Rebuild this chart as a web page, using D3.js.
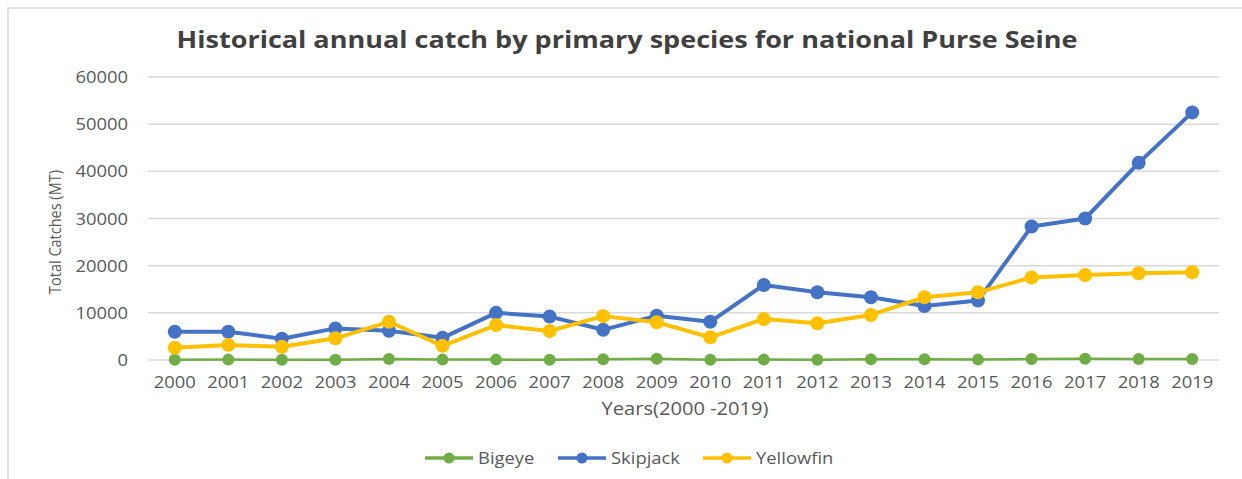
<!DOCTYPE html>
<html>
<head>
<meta charset="utf-8">
<script src="https://cdn.jsdelivr.net/npm/d3@7"></script>
<style>
body { margin: 0; background: #fff; }
text { font-family: "Open Sans", sans-serif; fill: #595959; }
</style>
</head>
<body>
<div id="chart"></div>
<script>
var width = 1242, height = 479;

// data
var years = [2000, 2001, 2002, 2003, 2004, 2005, 2006, 2007, 2008, 2009,
             2010, 2011, 2012, 2013, 2014, 2015, 2016, 2017, 2018, 2019];
var bigeye = [50, 80, 60, 60, 200, 80, 80, 60, 150, 250,
              60, 80, 60, 150, 150, 80, 200, 250, 200, 220];
var skipjack = [6000, 6000, 4500, 6700, 6200, 4700, 10000, 9200, 6400, 9400,
                8100, 15900, 14350, 13300, 11450, 12600, 28300, 30000, 41800, 52500];
var yellowfin = [2600, 3200, 2800, 4600, 8100, 3000, 7400, 6150, 9300, 8000,
                 4800, 8700, 7800, 9550, 13300, 14350, 17500, 18000, 18400, 18600];
var yTicks = [0, 10000, 20000, 30000, 40000, 50000, 60000];
var seriesNames = ["Bigeye", "Skipjack", "Yellowfin"];
var seriesColors = ["#70AD47", "#4472C4", "#FFC000"];

var series = [
    {name: seriesNames[0], values: bigeye, color: seriesColors[0], w: 2.5, r: 6},
    {name: seriesNames[1], values: skipjack, color: seriesColors[1], w: 4, r: 7},
    {name: seriesNames[2], values: yellowfin, color: seriesColors[2], w: 4, r: 7}
];

var stretch = 1.15; // reference text looks widened

var svg = d3.select("#chart").append("svg")
    .attr("width", width)
    .attr("height", height);

//chart border
svg.append("rect")
    .attr("x", 8).attr("y", 8)
    .attr("width", 1260).attr("height", 500)
    .attr("fill", "none")
    .attr("stroke", "#d9d9d9")
    .attr("stroke-width", 1.5);

var x = d3.scaleBand()
    .domain(years)
    .range([148, 1219]);

var y = d3.scaleLinear()
    .domain([0, 60000])
    .range([360, 77]);

function stretchedText(g, tx, ty, str) {
    return g.append("g")
        .attr("transform", "translate(" + tx + "," + ty + ") scale(" + stretch + ",1)")
        .append("text")
        .text(str);
}

//gridlines
svg.append("g")
    .selectAll("line")
    .data(yTicks)
    .enter().append("line")
    .attr("x1", 148).attr("x2", 1219)
    .attr("y1", function(d) { return y(d); })
    .attr("y2", function(d) { return y(d); })
    .attr("stroke", "#d9d9d9")
    .attr("stroke-width", 1.5);

//y tick labels
var yAxis = svg.append("g");
yTicks.forEach(function(t) {
    stretchedText(yAxis, 128, y(t) + 6, t)
        .attr("text-anchor", "end")
        .style("font-size", "16px");
});

//x tick labels
var xAxis = svg.append("g");
years.forEach(function(yr) {
    stretchedText(xAxis, x(yr) + x.bandwidth() / 2, 388, yr)
        .attr("text-anchor", "middle")
        .style("font-size", "16px");
});

//title
stretchedText(svg, 627, 48, "Historical annual catch by primary species for national Purse Seine")
    .attr("text-anchor", "middle")
    .style("font-size", "23.5px")
    .style("font-weight", "bold")
    .style("fill", "#404040");

//axis titles
svg.append("g")
    .attr("transform", "translate(61,232) scale(" + stretch + ",1) rotate(-90)")
    .append("text")
    .attr("text-anchor", "middle")
    .style("font-size", "14.5px")
    .text("Total Catches (MT)");

stretchedText(svg, 685, 415, "Years(2000 -2019)")
    .attr("text-anchor", "middle")
    .style("font-size", "17.5px");

//lines and markers
var line = d3.line()
    .x(function(d, i) { return x(years[i]) + x.bandwidth() / 2; })
    .y(function(d) { return y(d); });

series.forEach(function(s) {
    var g = svg.append("g");
    g.append("path")
        .attr("d", line(s.values))
        .attr("fill", "none")
        .attr("stroke", s.color)
        .attr("stroke-width", s.w)
        .style("stroke-linejoin", "round");
    g.selectAll("circle")
        .data(s.values)
        .enter().append("circle")
        .attr("cx", function(d, i) { return x(years[i]) + x.bandwidth() / 2; })
        .attr("cy", function(d) { return y(d); })
        .attr("r", s.r)
        .attr("fill", s.color);
});

//legend
var legendX = [425, 558, 703];
series.forEach(function(s, i) {
    var lg = svg.append("g").attr("transform", "translate(" + legendX[i] + ",458)");
    lg.append("line")
        .attr("x1", 0).attr("x2", 48)
        .attr("stroke", s.color)
        .attr("stroke-width", 3.5);
    lg.append("circle")
        .attr("cx", 24).attr("r", 5.5)
        .attr("fill", s.color);
    stretchedText(lg, 53, 6, s.name)
        .style("font-size", "16px");
});
</script>
</body>
</html>
